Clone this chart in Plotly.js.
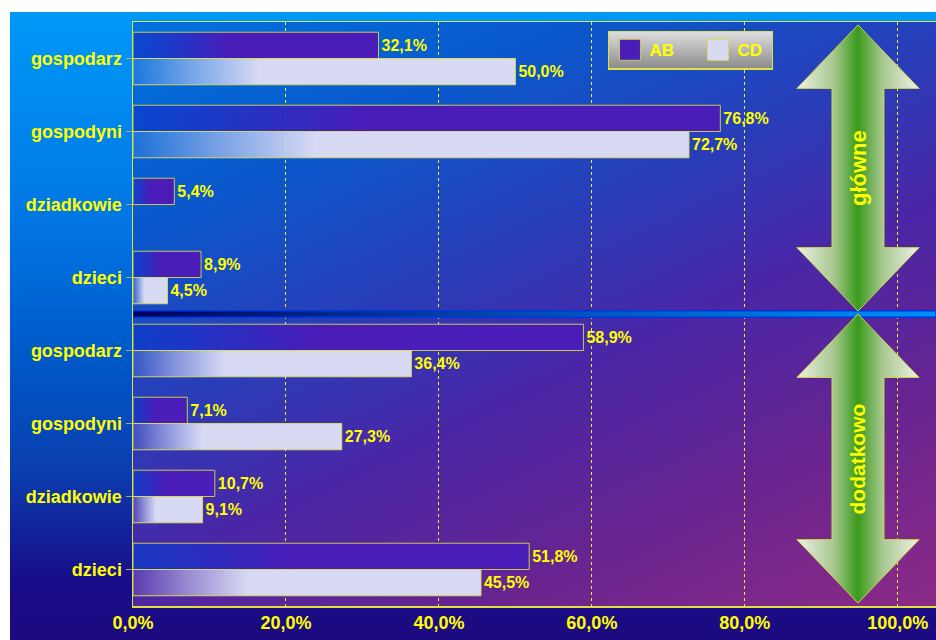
<!DOCTYPE html>
<html><head><meta charset="utf-8">
<script src="https://cdn.plot.ly/plotly-3.0.1.min.js"></script>
<style>
html,body{margin:0;padding:0;background:#fff;width:936px;height:640px;overflow:hidden}
#outer{position:absolute;left:10px;top:12px;width:926px;height:628px;
 background:linear-gradient(to bottom,#0099f8 0%,#0074e2 35%,#0058c8 55%,#0a40b0 72%,#180e8a 90%,#1c0a80 100%)}
#plotbg{position:absolute;left:133px;top:22px;width:803px;height:584px;
 background:linear-gradient(155deg,#0072de 0%,#0a58cc 22%,#2a3cb8 42%,#4a26a6 58%,#682490 78%,#8c2a86 100%)}
#chart{position:absolute;left:0;top:0;width:936px;height:640px}
</style></head><body>
<div id="outer"></div><div id="plotbg"></div><div id="chart"></div>
<script>
// ---- data ----
const categories = ['gospodarz','gospodyni','dziadkowie','dzieci','gospodarz','gospodyni','dziadkowie','dzieci'];
const groupNames = ['główne','dodatkowo'];
const groupOf = [0,0,0,0,1,1,1,1];
const seriesNames = ['AB','CD'];
const valuesAB = [32.1,76.8,5.4,8.9,58.9,7.1,10.7,51.8];
const valuesCD = [50.0,72.7,null,4.5,36.4,27.3,9.1,45.5];
const xTickVals = [0,20,40,60,80,100];
const xRange = [0,105];

// ---- helpers ----
const FONT = 'Liberation Sans, Arial, sans-serif';
const YEL = '#ffff00';
const fmt = v => (v === null ? '' : v.toFixed(1).replace('.', ',') + '%');
const idx = categories.map((c,i)=>i);

const barCommon = {
  type:'bar', orientation:'h', y: idx, textposition:'outside', cliponaxis:false,
  constraintext:'none', hoverinfo:'skip',
  textfont:{family:FONT, size:16, color:YEL, weight:'bold'}
};
const traces = [
  Object.assign({}, barCommon, {name: seriesNames[0], x: valuesAB, text: valuesAB.map(fmt),
    marker:{color:'#4a1cb8', line:{color:'#c8c850', width:1}}}),
  Object.assign({}, barCommon, {name: seriesNames[1], x: valuesCD, text: valuesCD.map(fmt),
    marker:{color:'#d8daf4', line:{color:'#d8d860', width:1}}})
];

// separator between groups
const boundary = idx.find(i => groupOf[i] === 1) - 0.5;
traces.push({
  type:'scatter', mode:'lines', x:[xRange[0],xRange[1],xRange[1],xRange[0],xRange[0]],
  y:[boundary-0.045,boundary-0.045,boundary+0.045,boundary+0.045,boundary-0.045],
  fill:'toself', fillcolor:'#0060d0', line:{color:'#0034e0', width:1.5},
  fillgradient:{type:'horizontal', colorscale:[[0,'#000058'],[0.35,'#003a9c'],[1,'#0090f4']]},
  showlegend:false, hoverinfo:'skip'
});

// double arrows per group
const annotations = [];
const cx = 94.8, hw = 8.0, sw = 3.4, hh = 0.87;
groupNames.forEach((g, gi) => {
  const members = idx.filter(i => groupOf[i] === gi);
  const yt = members[0] - 0.5 + (gi === 0 ? 0.04 : 0.0);
  const yb = members[members.length-1] + 0.5 - 0.04;
  const y1 = yt + hh, y2 = yb - hh;
  traces.push({
    type:'scatter', mode:'lines',
    x:[cx, cx+hw, cx+sw, cx+sw, cx+hw, cx, cx-hw, cx-sw, cx-sw, cx-hw, cx],
    y:[yt, y1, y1, y2, y2, yb, y2, y2, y1, y1, yt],
    fill:'toself', fillcolor:'#70b050', line:{color:'#c8d040', width:1},
    fillgradient:{type:'horizontal', colorscale:[[0,'#eef2e6'],[0.3,'#a8c890'],[0.5,'#3a9a1c'],[0.7,'#a8c890'],[1,'#eef2e6']]},
    showlegend:false, hoverinfo:'skip'
  });
  annotations.push({x:cx, y:(yt+yb)/2, xref:'x', yref:'y', text:g, showarrow:false, textangle:-90,
    font:{family:FONT, size:gi === 0 ? 22 : 21, color:YEL, weight:'bold'}});
});

const layout = {
  width:936, height:640,
  margin:{l:133, r:0, t:22, b:34, pad:0},
  paper_bgcolor:'rgba(0,0,0,0)', plot_bgcolor:'rgba(0,0,0,0)',
  separators:', ',
  barmode:'group', bargap:0.28, bargroupgap:0,
  font:{family:FONT, color:YEL, size:16, weight:'bold'},
  xaxis:{range:xRange, tickvals:xTickVals, ticktext:xTickVals.map(v=>fmt(v)),
    showgrid:true, gridcolor:'#f4f020', griddash:'dot', gridwidth:1, zeroline:false,
    showline:true, linecolor:'#e0e040', linewidth:1.5, mirror:true, ticks:'',
    tickfont:{family:FONT, size:18, color:YEL, weight:'bold'}, fixedrange:true},
  yaxis:{range:[categories.length-0.5,-0.5], tickvals:idx, ticktext:categories,
    showgrid:false, zeroline:false, showline:true, linecolor:'#e0e040', linewidth:1.5, mirror:true,
    ticks:'outside', ticklen:6, tickcolor:'#a8a878', tickwidth:1.5,
    tickfont:{family:FONT, size:18, color:YEL, weight:'bold'}, fixedrange:true},
  showlegend:true,
  legend:{orientation:'h', x:0.5915, y:0.985, xanchor:'left', yanchor:'top',
    bgcolor:'#b8b8b8', bordercolor:'#e0e040', borderwidth:1.5, entrywidth:43,
    font:{family:FONT, size:17, color:YEL, weight:'bold'}},
  annotations: annotations
};

const NS = 'http://www.w3.org/2000/svg';
Plotly.newPlot('chart', traces, layout, {displayModeBar:false, staticPlot:true}).then(gd => {
  const svg = gd.querySelector('svg.main-svg');
  let defs = svg.querySelector('defs');
  if (!defs) { defs = document.createElementNS(NS,'defs'); svg.insertBefore(defs, svg.firstChild); }
  function grad(id, vertical, stops){
    const g = document.createElementNS(NS,'linearGradient');
    g.setAttribute('id', id);
    g.setAttribute('x1','0'); g.setAttribute('y1','0');
    g.setAttribute('x2', vertical ? '0' : '1'); g.setAttribute('y2', vertical ? '1' : '0');
    stops.forEach(s => { const st = document.createElementNS(NS,'stop');
      st.setAttribute('offset', s[0]); st.setAttribute('stop-color', s[1]); st.setAttribute('stop-opacity', s[2]);
      g.appendChild(st); });
    defs.appendChild(g);
  }
  grad('gAB', false, [[0,'#0a3ccc',0.75],[0.4,'#4a1cb8',1],[1,'#4a1cb8',1]]);
  grad('gCD', false, [[0,'#c8d4f8',0.12],[0.15,'#d0d6f6',0.55],[0.33,'#d8daf4',1],[1,'#d8daf4',1]]);
  grad('gLeg', true, [[0,'#dedede',1],[0.5,'#b4b4b4',1],[1,'#8a8a8a',1]]);
  const bt = gd.querySelectorAll('.barlayer .trace');
  if (bt[0]) bt[0].querySelectorAll('path').forEach(p => p.style.fill = 'url(#gAB)');
  if (bt[1]) bt[1].querySelectorAll('path').forEach(p => p.style.fill = 'url(#gCD)');
  const lb = gd.querySelector('.legend rect.bg');
  if (lb) { lb.style.fill = 'url(#gLeg)'; lb.setAttribute('width', '164'); }
  gd.querySelectorAll('.legend .legendpoints path').forEach(p => p.setAttribute('d','M11,10.5H-10V-10.5H11Z'));
});
</script></body></html>
